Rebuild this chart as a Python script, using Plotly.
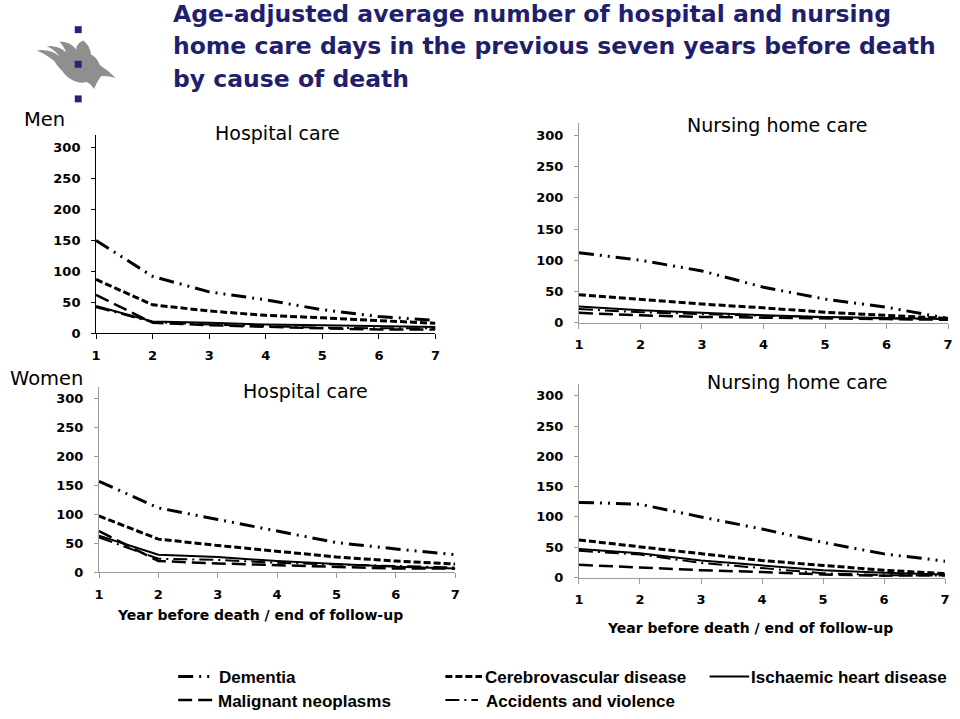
import plotly.graph_objects as go

years = [1, 2, 3, 4, 5, 6, 7]
tick_labels = ["1", "2", "3", "4", "5", "6", "7"]
y_ticks = [0, 50, 100, 150, 200, 250, 300]

causes = ["Dementia", "Cerebrovascular disease", "Ischaemic heart disease",
          "Malignant neoplasms", "Accidents and violence"]

# Men, hospital care
men_hosp_dementia = [150, 92, 67, 54, 38, 27, 21]
men_hosp_cerebro = [87, 46, 36, 29, 25, 20, 16]
men_hosp_ihd = [44, 19, 17, 14, 13, 12, 10]
men_hosp_cancer = [62, 17, 13, 10, 8, 6, 6]
men_hosp_accident = [42, 18, 14, 11, 9, 8, 8]

# Men, nursing home care
men_nurs_dementia = [112, 100, 83, 57, 38, 25, 7]
men_nurs_cerebro = [45, 37, 30, 24, 17, 12, 7]
men_nurs_ihd = [26, 20, 16, 12, 9.5, 8, 6]
men_nurs_cancer = [16, 12, 9.5, 8, 7, 6, 5]
men_nurs_accident = [22, 17, 14, 11, 9, 7, 6]

# Women, hospital care
women_hosp_dementia = [157, 111, 91, 71, 51, 40, 30]
women_hosp_cerebro = [97, 57, 46, 36, 26, 19, 14]
women_hosp_ihd = [63, 30, 26, 19, 14, 9, 6]
women_hosp_cancer = [71, 19, 15, 12, 9, 6, 6]
women_hosp_accident = [60, 23, 21, 16, 13, 10, 8]

# Women, nursing home care
women_nurs_dementia = [124, 121, 100, 80, 58, 39, 27]
women_nurs_cerebro = [62, 51, 39, 28, 20, 12, 6.5]
women_nurs_ihd = [47, 40, 28, 20, 12, 8, 5]
women_nurs_cancer = [21, 16, 12, 9, 5, 3, 4]
women_nurs_accident = [44, 38, 24, 16, 7, 4, 3]

title_lines = ["Age-adjusted average number of hospital and nursing",
               "home care days in the previous seven years before death",
               "by cause of death"]

W, H = 960, 719
WIDE = "DejaVu Sans, Verdana, sans-serif"
ARIAL = "Liberation Sans, Arial, Helvetica, sans-serif"


def px(x):
    return x / W


def py(y):
    return 1 - y / H


styles = {
    "Dementia": dict(dash="15px,6px,2px,6px,2px,6px", width=3),
    "Cerebrovascular disease": dict(dash="7px,3px", width=3),
    "Ischaemic heart disease": dict(dash="solid", width=2),
    "Malignant neoplasms": dict(dash="14px,6px", width=2.5),
    "Accidents and violence": dict(dash="14px,5px,2px,5px", width=2),
}

panels = [
    ("x", "y", (92, 435), 337, 137,
     [men_hosp_dementia, men_hosp_cerebro, men_hosp_ihd, men_hosp_cancer, men_hosp_accident], "#000000"),
    ("x2", "y2", (580, 953), 326.5, 124,
     [men_nurs_dementia, men_nurs_cerebro, men_nurs_ihd, men_nurs_cancer, men_nurs_accident], "#9a9a9a"),
    ("x3", "y3", (95, 455), 578.5, 391.5,
     [women_hosp_dementia, women_hosp_cerebro, women_hosp_ihd, women_hosp_cancer, women_hosp_accident], "#9a9a9a"),
    ("x4", "y4", (580, 950), 584, 388,
     [women_nurs_dementia, women_nurs_cerebro, women_nurs_ihd, women_nurs_cancer, women_nurs_accident], "#9a9a9a"),
]

fig = go.Figure()
layout_axes = {}
tickfont = dict(family=WIDE, size=13, color="black", weight="bold")
for xa, ya, (x0, x1), yb, yt, series, acol in panels:
    for name, vals in zip(causes, series):
        st = styles[name]
        fig.add_trace(go.Scatter(x=years, y=vals, mode="lines", name=name,
                                 xaxis=xa, yaxis=ya, showlegend=False,
                                 line=dict(color="black", dash=st["dash"], width=st["width"])))
    xkey = "xaxis" + xa[1:]
    ykey = "yaxis" + ya[1:]
    layout_axes[xkey] = dict(domain=[px(x0), px(x1)], range=[1, 7], anchor=ya,
                             tickvals=years, ticktext=tick_labels, showgrid=False,
                             zeroline=False, showline=True, linecolor=acol, linewidth=1,
                             ticks="outside", ticklen=5, tickcolor=acol,
                             ticklabelstandoff=5, ticklabeloverflow="allow",
                             tickfont=tickfont)
    layout_axes[ykey] = dict(domain=[py(yb), py(yt)], range=[0, 320], anchor=xa,
                             tickvals=y_ticks, showgrid=False, zeroline=False,
                             showline=True, linecolor=acol, linewidth=1,
                             ticks="outside", ticklen=4, tickcolor=acol,
                             ticklabelstandoff=8, tickfont=tickfont)

# pixel overlay axis for logo and legend samples
layout_axes["xaxis5"] = dict(domain=[0, 1], range=[0, W], visible=False, anchor="y5")
layout_axes["yaxis5"] = dict(domain=[0, 1], range=[H, 0], visible=False, anchor="x5")

legend_items = [
    ("Dementia", 175, 207, 214, 684),
    ("Cerebrovascular disease", 445, 482, 483, 684),
    ("Ischaemic heart disease", 712, 752, 752, 684),
    ("Malignant neoplasms", 175, 212, 213, 708),
    ("Accidents and violence", 445, 478, 484, 708),
]
annotations = []
for name, lx0, lx1, tx, ty in legend_items:
    st = styles[name]
    fig.add_trace(go.Scatter(x=[lx0, lx1], y=[ty, ty], mode="lines", xaxis="x5", yaxis="y5",
                             showlegend=False, hoverinfo="skip",
                             line=dict(color="black", dash=st["dash"], width=st["width"])))
    annotations.append(dict(x=px(tx), y=py(ty + 1), xref="paper", yref="paper", text=name,
                            showarrow=False, xanchor="left", yanchor="middle",
                            font=dict(family=ARIAL, size=17, color="black", weight="bold")))


def label(x, y, text, size, family=WIDE, bold=False, color="black", xanchor="center"):
    return dict(x=px(x), y=py(y), xref="paper", yref="paper", text=text, showarrow=False,
                xanchor=xanchor, yanchor="middle",
                font=dict(family=family, size=size, color=color,
                          weight="bold" if bold else "normal"))


for i, (line, cy) in enumerate(zip(title_lines, [14, 47, 80])):
    annotations.append(label(168, cy, line, 23.5, bold=True, color="#1f1f6e", xanchor="left"))

annotations += [
    label(40, 121, "Men", 19.5),
    label(42, 383, "Women", 19.5),
    label(275, 134, "Hospital care", 19),
    label(304, 395, "Hospital care", 19),
    label(780, 126, "Nursing home care", 19),
    label(800, 386, "Nursing home care", 19),
    label(258, 622, "Year before death / end of follow-up", 14, bold=True),
    label(753, 635, "Year before death / end of follow-up", 14, bold=True),
]

shapes = [
    dict(type="path", xref="x5", yref="y5", fillcolor="#8f8f8f", line=dict(width=0),
         path="M 32,51 Q 45,49 55,57 Q 49,49 42,47 Q 52,45 62,53 Q 58,45 55,42 "
              "Q 66,42 72,50 Q 72,44 79,41 Q 86,46 87,55 Q 93,58 96,66 Q 104,71 112,79 "
              "Q 103,76 97,77 Q 93,82 90,90 Q 86,84 82,83 Q 76,85 70,82 Q 62,78 58,72 "
              "Q 52,66 50,62 Q 42,55 32,51 Z"),
]
for cy in (30, 65, 100):
    shapes.append(dict(type="rect", xref="x5", yref="y5", x0=70.5, x1=77.5,
                       y0=cy - 3.5, y1=cy + 3.5, fillcolor="#23237a", line=dict(width=0)))

fig.update_layout(width=W, height=H, margin=dict(l=0, r=0, t=0, b=0),
                  paper_bgcolor="white", plot_bgcolor="rgba(0,0,0,0)",
                  showlegend=False, annotations=annotations, shapes=shapes,
                  **layout_axes)

fig.write_html("out.html", config={"displayModeBar": False},
               post_script="document.body.style.margin='0px';document.body.style.overflow='hidden';")
